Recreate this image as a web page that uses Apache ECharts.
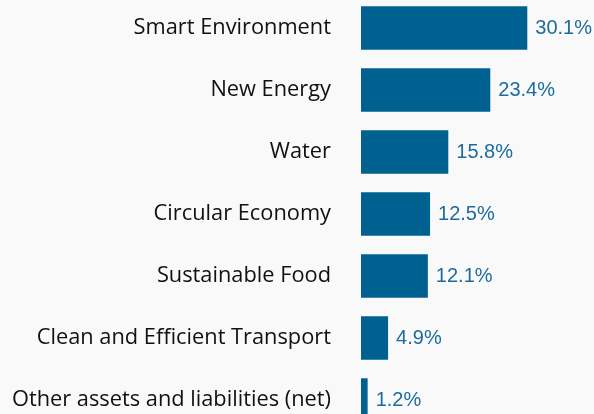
<!DOCTYPE html>
<html>
<head>
<meta charset="utf-8">
<script src="https://cdn.jsdelivr.net/npm/echarts@6/dist/echarts.min.js"></script>
<style>
  html, body { margin: 0; padding: 0; background: #f9f9f9; }
  #chart { width: 594px; height: 414px; }
</style>
</head>
<body>
<div id="chart"></div>
<script>
// categories listed top to bottom
var categories = ['Smart Environment', 'New Energy', 'Water', 'Circular Economy', 'Sustainable Food', 'Clean and Efficient Transport', 'Other assets and liabilities (net)'];
var shares = [30.1, 23.4, 15.8, 12.5, 12.1, 4.9, 1.2];

var myChart = echarts.init(document.getElementById('chart'));
var option = {
  backgroundColor: '#f9f9f9',
  animation: false,
  grid: {
    left: 361,
    right: 12,
    top: -3,
    height: 434,
    containLabel: false,
    outerBoundsMode: 'none'
  },
  xAxis: {
    type: 'value',
    min: 0,
    max: 40,
    show: false
  },
  yAxis: {
    type: 'category',
    inverse: true,
    data: categories,
    axisLine: { show: false },
    axisTick: { show: false },
    axisLabel: {
      margin: 30,
      color: '#111',
      fontSize: 21.8,
      fontFamily: 'Open Sans',
      padding: [5, 0, 0, 0]
    }
  },
  series: [{
    type: 'bar',
    data: shares,
    barCategoryGap: '30%',
    itemStyle: { color: '#006190' },
    label: {
      show: true,
      position: 'right',
      distance: 8,
      color: '#1d6c9c',
      fontSize: 20,
      fontFamily: 'Liberation Sans',
      padding: [5, 0, 0, 0],
      formatter: function (p) { return p.value.toFixed(1) + '%'; }
    }
  }]
};
myChart.setOption(option);
</script>
</body>
</html>
